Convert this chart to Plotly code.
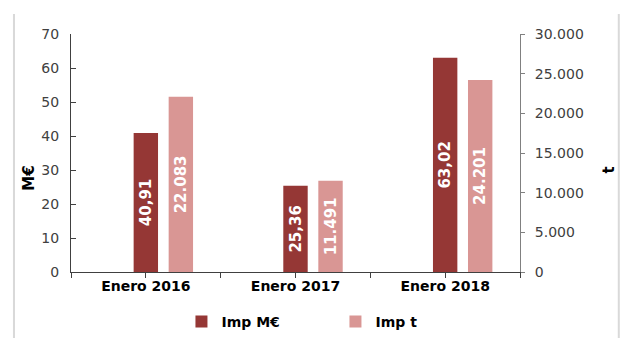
import plotly.graph_objects as go

categories = ["Enero 2016", "Enero 2017", "Enero 2018"]
imp_meur = [40.91, 25.36, 63.02]
imp_t = [22083, 11491, 24201]
y_ticks_meur = [0, 10, 20, 30, 40, 50, 60, 70]
y_ticks_t = [0, 5000, 10000, 15000, 20000, 25000, 30000]

DARK = "#953735"
PINK = "#D99694"
FONT = "DejaVu Sans"

xpos = list(range(len(categories)))
bar_w = 0.163

fig = go.Figure()
fig.add_trace(go.Bar(
    x=xpos, y=imp_meur, name="Imp M€", yaxis="y",
    marker=dict(color=DARK, line=dict(width=0)),
    width=[bar_w] * 3, offset=[-bar_w / 2] * 3,
    texttemplate="%{y:.2f}", textposition="inside", insidetextanchor="middle",
    textangle=-90, textfont=dict(family=FONT, size=15, color="white", weight="bold"),
    cliponaxis=False,
))
fig.add_trace(go.Bar(
    x=xpos, y=imp_t, name="Imp t", yaxis="y2",
    marker=dict(color=PINK, line=dict(width=0)),
    width=[bar_w] * 3, offset=[0.234 - bar_w / 2] * 3,
    texttemplate="%{y:,.0f}", textposition="inside", insidetextanchor="middle",
    textangle=-90, textfont=dict(family=FONT, size=15, color="white", weight="bold"),
    cliponaxis=False,
))

# category ticks at both centres and boundaries
tickvals = [-0.5, 0, 0.5, 1, 1.5, 2, 2.5]
ticktext = ["", categories[0], "", categories[1], "", categories[2], ""]

fig.update_layout(
    width=624, height=338,
    margin=dict(l=71, r=104, t=34, b=66, autoexpand=False),
    paper_bgcolor="white", plot_bgcolor="white",
    separators=",.",
    barmode="overlay",
    showlegend=True,
    font=dict(family=FONT, size=14, color="#404040"),
    xaxis=dict(
        range=[-0.5, 2.5], tickvals=tickvals, ticktext=ticktext,
        showline=True, linecolor="#404040", linewidth=1,
        ticks="outside", ticklen=5, tickcolor="#404040",
        showgrid=False, zeroline=False,
        tickfont=dict(family=FONT, size=14, color="black", weight="bold"),
        ticklabelstandoff=-4,
    ),
    yaxis=dict(
        range=[0, 70], tickvals=y_ticks_meur,
        showline=True, linecolor="#404040", linewidth=1,
        ticks="inside", ticklen=5, tickcolor="#404040",
        showgrid=False, zeroline=False,
        tickfont=dict(family=FONT, size=14, color="#404040"),
        ticklabelstandoff=8,
    ),
    yaxis2=dict(
        range=[0, 30000], tickvals=y_ticks_t, tickformat=",.0f",
        overlaying="y", side="right",
        showline=True, linecolor="#808080", linewidth=1,
        ticks="outside", ticklen=4, tickcolor="#808080",
        showgrid=False, zeroline=False,
        tickfont=dict(family=FONT, size=14, color="#404040"),
        ticklabelstandoff=7,
    ),
    legend=dict(
        orientation="h", x=0.246, xanchor="left", y=-0.21, yanchor="middle",
        font=dict(family=FONT, size=14, color="black", weight="bold"),
        entrywidth=109, entrywidthmode="pixels",
        itemwidth=30, bgcolor="rgba(0,0,0,0)",
    ),
    annotations=[
        dict(text="<b>M€</b>", xref="paper", yref="paper", x=-0.094, y=0.395,
             xanchor="center", yanchor="middle", showarrow=False, textangle=-90,
             font=dict(family=FONT, size=15, color="black")),
        dict(text="<b>t</b>", xref="paper", yref="paper", x=1.198, y=0.43,
             xanchor="center", yanchor="middle", showarrow=False, textangle=-90,
             font=dict(family=FONT, size=15, color="black")),
    ],
    shapes=[
        dict(type="line", xref="paper", yref="paper", x0=-0.127, x1=-0.127, y0=1.084, y1=-0.3,
             line=dict(color="#D9D9D9", width=2)),
        dict(type="line", xref="paper", yref="paper", x0=1.22, x1=1.22, y0=1.084, y1=-0.3,
             line=dict(color="#D9D9D9", width=2)),
    ],
)

fig.write_html("out.html")
